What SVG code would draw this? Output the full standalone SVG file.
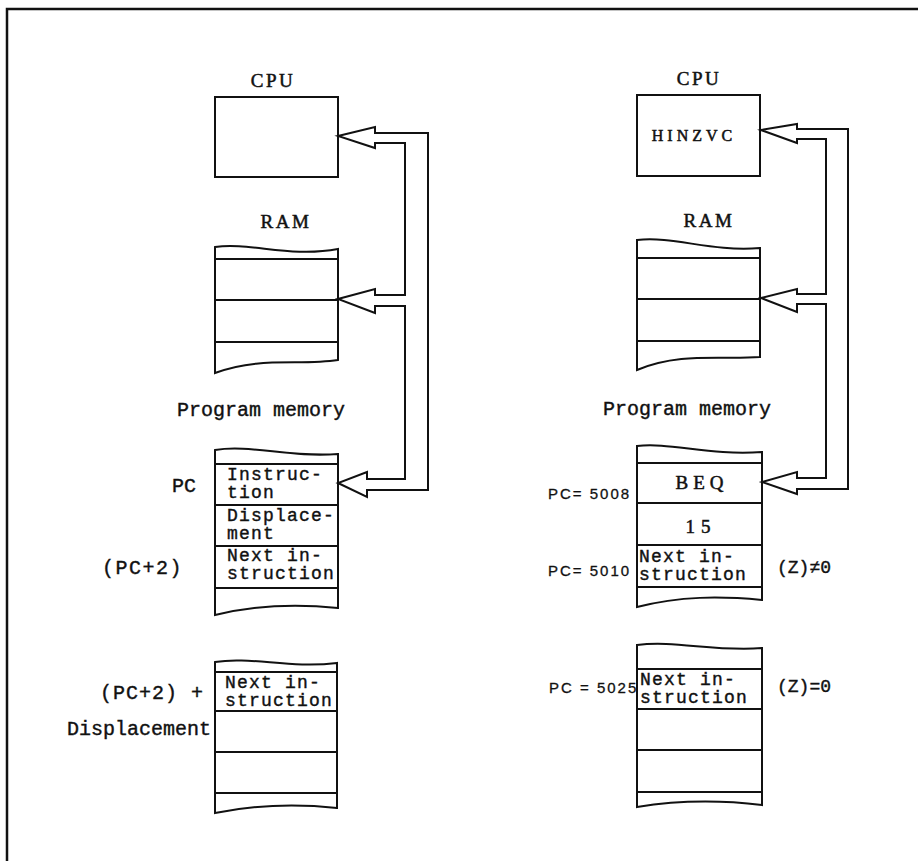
<svg xmlns="http://www.w3.org/2000/svg" width="918" height="861" viewBox="0 0 918 861">
<style>
  .ln { fill: none; stroke: #111; stroke-width: 2; stroke-linejoin: round; }
  .box { fill: #fff; stroke: #111; stroke-width: 2; }
  .bus { fill: #fff; stroke: #111; stroke-width: 2; stroke-linejoin: miter; }
  .serif { font-family: "Liberation Serif", "Times New Roman", serif; font-size: 19px; fill: #111; stroke: #111; stroke-width: 0.5px; letter-spacing: 2.5px; }
  .mono { font-family: "Liberation Mono", "Courier New", monospace; font-size: 20px; fill: #111; stroke: #111; stroke-width: 0.4px; }
  .cell { font-family: "Liberation Mono", "Courier New", monospace; font-size: 18px; letter-spacing: 1.2px; fill: #111; stroke: #111; stroke-width: 0.4px; }
  .pc { font-family: "Liberation Sans", Arial, sans-serif; font-size: 15px; fill: #111; stroke: #111; stroke-width: 0.3px; letter-spacing: 2px; }
  .frame { fill: none; stroke: #111; stroke-width: 2.5; }
</style>

<g id="frame">
  <path class="frame" d="M7,861 L7,9 L918,9"/>
</g>

<!-- Left column -->
<g id="cpu-left">
  <text class="serif" x="273" y="87" text-anchor="middle">CPU</text>
  <rect class="box" x="215" y="97" width="123" height="80"/>
</g>

<g id="ram-left">
  <text class="serif" x="286" y="228" text-anchor="middle">RAM</text>
  <path class="box" d="M215,247 C250,242 290,258 338,249 L338,360 C300,366 260,356 215,373 Z"/>
  <path class="ln" d="M215,259 H338 M215,300 H338 M215,342 H338"/>
</g>

<g id="pm-left">
  <text class="mono" x="177" y="416">Program memory</text>
  <path class="box" d="M215,450 C250,444 290,458 338,454 L338,608 C300,604 260,604 215,615 Z"/>
  <path class="ln" d="M215,464 H338 M215,505 H338 M215,546 H338 M215,588 H338"/>
  <text class="cell" x="227" y="480">Instruc-<tspan x="227" dy="18">tion</tspan></text>
  <text class="cell" x="227" y="521">Displace-<tspan x="227" dy="18">ment</tspan></text>
  <text class="cell" x="227" y="561">Next in-<tspan x="227" dy="18">struction</tspan></text>
  <text class="mono" x="172" y="492">PC</text>
  <text class="mono" x="102" y="574" letter-spacing="1.5">(PC+2)</text>
</g>

<g id="mem2-left">
  <path class="box" d="M215,662 C250,656 290,669 337,663 L337,808 C300,804 260,804 215,813 Z"/>
  <path class="ln" d="M215,672 H337 M215,711 H337 M215,752 H337 M215,793 H337"/>
  <text class="cell" x="225" y="688">Next in-<tspan x="225" dy="18">struction</tspan></text>
  <text class="mono" x="100" y="699" letter-spacing="1">(PC+2) +</text>
  <text class="mono" x="67" y="735">Displacement</text>
</g>

<!-- Right column -->
<g id="cpu-right">
  <text class="serif" x="699" y="85" text-anchor="middle">CPU</text>
  <rect class="box" x="637" y="95" width="123" height="81"/>
  <text class="serif" x="694" y="141" text-anchor="middle" style="font-size:16px;letter-spacing:4px">HINZVC</text>
</g>

<g id="ram-right">
  <text class="serif" x="709" y="227" text-anchor="middle">RAM</text>
  <path class="box" d="M637,240 C675,236 710,252 760,248 L760,357 C720,360 680,352 637,370 Z"/>
  <path class="ln" d="M637,258 H760 M637,299 H760 M637,341 H760"/>
</g>

<g id="pm-right">
  <text class="mono" x="603" y="415">Program memory</text>
  <path class="box" d="M637,446 C670,442 710,456 762,452 L762,600 C720,596 680,596 637,607 Z"/>
  <path class="ln" d="M637,463 H762 M637,503 H762 M637,545 H762 M637,587 H762"/>
  <text class="serif" x="702" y="489" text-anchor="middle" style="letter-spacing:5px">BEQ</text>
  <text class="serif" x="701" y="533" text-anchor="middle" style="letter-spacing:6px">15</text>
  <text class="cell" x="639" y="562">Next in-<tspan x="639" dy="18">struction</tspan></text>
  <text class="mono" x="777" y="573" style="font-size:18px">(Z)≠0</text>
  <text class="pc" x="548" y="499">PC= 5008</text>
  <text class="pc" x="548" y="576">PC= 5010</text>
</g>

<g id="mem2-right">
  <path class="box" d="M637,645 C675,640 715,652 762,648 L762,805 C720,800 680,800 637,807 Z"/>
  <path class="ln" d="M637,669 H762 M637,709 H762 M637,750 H762 M637,792 H762"/>
  <text class="cell" x="640" y="685">Next in-<tspan x="640" dy="18">struction</tspan></text>
  <text class="mono" x="777" y="692" style="font-size:18px">(Z)=0</text>
  <text class="pc" x="549" y="693">PC = 5025</text>
</g>

<g id="connectors">
  <polygon class="bus" points="338,136 375,127 375,133 428,133 428,490 367,490 367,497 338,483 367,472 367,479 405,479 405,306 375,306 375,313 338,299 375,289 375,295 405,295 405,143 375,143 375,148"/>
  <polygon class="bus" points="761,130 797,124 797,129 848,129 848,489 797,489 797,494 762,482 797,472 797,478 826,478 826,304 797,304 797,312 761,298 797,289 797,294 826,294 826,139 797,139 797,143"/>
</g>
</svg>
